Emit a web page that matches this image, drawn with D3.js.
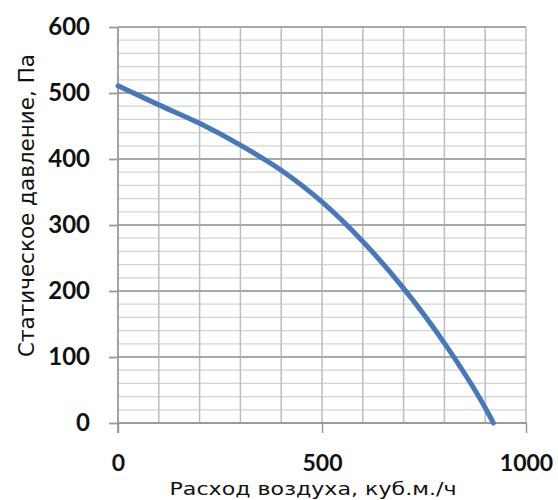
<!DOCTYPE html>
<html><head><meta charset="utf-8">
<script src="https://cdn.jsdelivr.net/npm/d3@7"></script>
<style>html,body{margin:0;padding:0;background:#fff;}svg{display:block;}</style>
</head><body>
<script>
const flow = [0, 100, 200, 300, 400, 500, 600, 700, 800, 900, 920];
const pressure = [511, 482, 454, 421, 383, 335, 275, 204, 121, 23, 0];
const xTicks = [0, 500, 1000];
const yTicks = [0, 100, 200, 300, 400, 500, 600];
const xTitle = "Расход воздуха, куб.м./ч";
const yTitle = "Статическое давление, Па";

const W = 558, H = 500;
const svg = d3.select("body").append("svg").attr("width", W).attr("height", H);
const x = d3.scaleLinear().domain([0, 1000]).range([118, 526]);
const y = d3.scaleLinear().domain([0, 600]).range([423, 27]);

// minor horizontal grid (every 20)
const g = svg.append("g");
g.selectAll("line.hmin").data(d3.range(20, 600, 20).filter(v => v % 100 !== 0)).join("line")
  .attr("x1", x(0)).attr("x2", x(1000)).attr("y1", d => y(d)).attr("y2", d => y(d))
  .attr("stroke", "#d4d4d4").attr("stroke-width", 1.3);
// vertical grid (every 100)
g.selectAll("line.v").data(d3.range(100, 1001, 100)).join("line")
  .attr("x1", d => x(d)).attr("x2", d => x(d)).attr("y1", y(0)).attr("y2", y(600))
  .attr("stroke", "#bdbdbd").attr("stroke-width", 1.5);
// major horizontal grid
g.selectAll("line.hmaj").data(yTicks.filter(v => v > 0)).join("line")
  .attr("x1", x(0)).attr("x2", x(1000)).attr("y1", d => y(d)).attr("y2", d => y(d))
  .attr("stroke", "#a8a8a8").attr("stroke-width", 1.8);

// y axis
const yAxis = svg.append("g").attr("transform", `translate(${x(0)},0)`)
  .call(d3.axisLeft(y).tickValues(yTicks).tickSize(9).tickPadding(19).tickFormat(d3.format("d")));
yAxis.select(".domain").attr("stroke", "#9a9a9a").attr("stroke-width", 1.8)
  .attr("d", `M0,${y(600)}V${y(0) + 10}`);
yAxis.selectAll(".tick line").attr("stroke", "#9a9a9a").attr("stroke-width", 1.8);
yAxis.selectAll(".tick text").attr("font-family", "Lato, 'Open Sans', sans-serif")
  .attr("font-weight", "bold").attr("font-size", 24).attr("fill", "#111");

// x axis
const xAxis = svg.append("g").attr("transform", `translate(0,${y(0)})`)
  .call(d3.axisBottom(x).tickValues(xTicks).tickSize(10).tickPadding(22).tickFormat(d3.format("d")));
xAxis.select(".domain").attr("stroke", "#9a9a9a").attr("stroke-width", 1.8)
  .attr("d", `M${x(0)},0H${x(1000)}`);
xAxis.selectAll(".tick line").attr("stroke", "#9a9a9a").attr("stroke-width", 1.5);
xAxis.selectAll(".tick text").attr("font-family", "Lato, 'Open Sans', sans-serif")
  .attr("font-weight", "bold").attr("font-size", 23).attr("fill", "#111");

// curve
const pts = flow.map((f, i) => [f, pressure[i]]);
svg.append("path").datum(pts)
  .attr("fill", "none").attr("stroke", "#4878b8").attr("stroke-width", 5)
  .attr("stroke-linecap", "round")
  .attr("d", d3.line().x(d => x(d[0])).y(d => y(d[1])).curve(d3.curveMonotoneX));

// titles
svg.append("text").attr("x", 313).attr("y", 495).attr("text-anchor", "middle")
  .attr("font-family", "'DejaVu Sans', sans-serif").attr("font-size", 17.5).attr("fill", "#111")
  .attr("textLength", 287).attr("lengthAdjust", "spacingAndGlyphs")
  .text(xTitle);
svg.append("text").attr("transform", `translate(34,205.5) rotate(-90)`).attr("text-anchor", "middle")
  .attr("font-family", "'DejaVu Sans', sans-serif").attr("font-size", 21).attr("fill", "#111")
  .attr("textLength", 303).attr("lengthAdjust", "spacingAndGlyphs")
  .text(yTitle);
</script>
</body></html>
